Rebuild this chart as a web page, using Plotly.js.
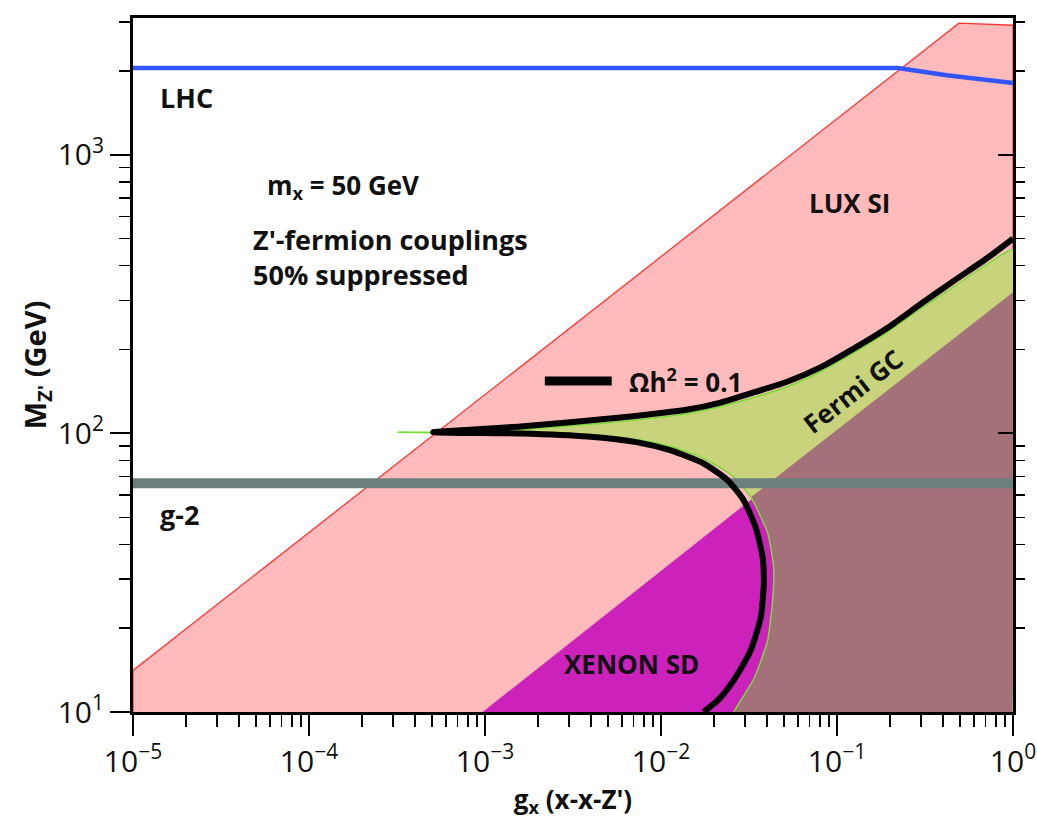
<!DOCTYPE html>
<html>
<head>
<meta charset="utf-8">
<script src="https://cdn.plot.ly/plotly-3.0.1.min.js"></script>
<style>
  html, body { margin: 0; padding: 0; background: #ffffff; }
  #chart { width: 1037px; height: 826px; }
</style>
</head>
<body>
<div id="chart"></div>
<script>
// Z' portal parameter space: coupling g_x vs. mediator mass M_Z'

// LUX SI excluded region (boundary polygon)
const luxG = [1e-5, 1e-5, 0.493, 1.0, 1.0];
const luxM = [10, 14.1, 2970, 2920, 10];

// XENON SD excluded region
const xenonG = [9.7e-4, 1.0, 1.0];
const xenonM = [10, 321, 10];

// Fermi GC preferred region: upper edge (tip -> right) and lower edge (tip -> bottom)
const fermiUpG = [3.21e-4, 5.08e-4, 0.00159, 0.00589, 0.0142, 0.0218, 0.0336, 0.0525, 0.081, 0.125, 0.195, 0.300, 0.461, 0.721, 1.0];
const fermiUpM = [101, 101, 103.3, 110.4, 118.0, 125.0, 134.6, 147.4, 166.9, 195.1, 232.1, 280.5, 336.4, 406.8, 456];
const fermiLoG = [5.08e-4, 0.00159, 0.00382, 0.00736, 0.01135, 0.01746, 0.0249, 0.0324, 0.0404, 0.0437, 0.0431, 0.0404, 0.0340, 0.0284, 0.0259];
const fermiLoM = [100.6, 101.6, 99.0, 95.1, 89.8, 81.3, 71.3, 59.0, 43.9, 33.1, 25.2, 18.1, 13.3, 11.0, 10];

// Relic density contour Omega h^2 = 0.1 (upper branch right -> tip, then lower branch)
const relicG = [1.0, 0.721, 0.461, 0.300, 0.195, 0.125, 0.081, 0.0525, 0.0336, 0.0218, 0.0142, 0.00589, 0.00159, 5.08e-4,
                0.00159, 0.00382, 0.00736, 0.01135, 0.01746, 0.0239, 0.0295, 0.0345, 0.0378, 0.0384, 0.0369, 0.0324, 0.0259, 0.0210, 0.01746];
const relicM = [500, 428, 353, 292, 240, 202, 173, 153.6, 140.3, 129.1, 121.9, 114.1, 105.9, 101,
                100, 97.5, 92.9, 86.9, 78.0, 67.9, 57.5, 46.0, 35.9, 29.0, 21.9, 16.7, 13.0, 11.0, 10];

// LHC dijet bound
const lhcG = [1e-5, 0.222, 0.42, 1.0];
const lhcM = [2050, 2050, 1930, 1810];

// muon g-2 bound
const g2G = [1e-5, 1.0];
const g2M = [66.2, 66.2];

// Axis ticks
const xTickVals = [1e-5, 1e-4, 1e-3, 1e-2, 1e-1, 1];
const xTickText = ['10<sup>\u22125</sup>', '10<sup>\u22124</sup>', '10<sup>\u22123</sup>', '10<sup>\u22122</sup>', '10<sup>\u22121</sup>', '10<sup>0</sup>'];
const yTickVals = [10, 100, 1000];
const yTickText = ['10<sup>1</sup>', '10<sup>2</sup>', '10<sup>3</sup>'];

function minorTicks(lo, hi) {
  const out = [];
  for (let d = lo; d < hi; d++) {
    for (let k = 2; k <= 9; k++) out.push(k * Math.pow(10, d));
  }
  return out;
}
const xMinor = minorTicks(-5, 0);
const yMinor = minorTicks(1, 4);

// Region where the Fermi GC band overlaps XENON SD exclusion
const overlapStart = fermiLoG.indexOf(0.0324);
const overlapG = fermiLoG.slice(overlapStart).concat([1.0, 1.0]);
const overlapM = fermiLoM.slice(overlapStart).concat([10, xenonM[1]]);

// Closed Fermi GC polygon
const fermiG = [1.0].concat(fermiUpG.slice().reverse(), fermiLoG);
const fermiM = [10].concat(fermiUpM.slice().reverse(), fermiLoM);

const FONT = 'Open Sans, Liberation Sans, sans-serif';

const traces = [
  { x: luxG, y: luxM, type: 'scatter', mode: 'lines', fill: 'toself',
    fillcolor: '#FFBBBB', line: { color: '#FF3535', width: 1.3 }, hoverinfo: 'skip' },
  { x: xenonG, y: xenonM, type: 'scatter', mode: 'lines', fill: 'toself',
    fillcolor: '#CC22BB', line: { width: 0 }, hoverinfo: 'skip' },
  { x: fermiG, y: fermiM, type: 'scatter', mode: 'lines', fill: 'toself',
    fillcolor: '#C8D37C', line: { width: 0, shape: 'spline', smoothing: 0.5 }, hoverinfo: 'skip' },
  { x: overlapG, y: overlapM, type: 'scatter', mode: 'lines', fill: 'toself',
    fillcolor: '#A4707A', line: { width: 0, shape: 'spline', smoothing: 0.5 }, hoverinfo: 'skip' },
  { x: fermiG, y: fermiM, type: 'scatter', mode: 'lines',
    line: { color: '#77DD33', width: 1.5, shape: 'spline', smoothing: 0.5 }, hoverinfo: 'skip' },
  { x: g2G, y: g2M, type: 'scatter', mode: 'lines',
    line: { color: '#6B807D', width: 10 }, hoverinfo: 'skip' },
  { x: lhcG, y: lhcM, type: 'scatter', mode: 'lines',
    line: { color: '#3355FF', width: 4.5 }, hoverinfo: 'skip' },
  { x: relicG, y: relicM, type: 'scatter', mode: 'lines', yaxis: 'y2',
    line: { color: '#000000', width: 6, shape: 'spline', smoothing: 0.6 }, hoverinfo: 'skip' }
];

const yRange = [1, Math.log10(3100)];

function label(text, x, y, size, extra) {
  return Object.assign({ text: text, xref: 'paper', yref: 'paper', x: x, y: y,
    xanchor: 'left', yanchor: 'middle', align: 'left', showarrow: false,
    font: { family: FONT, size: size, color: '#111111', weight: 'bold' } }, extra || {});
}

const layout = {
  width: 1037, height: 826,
  margin: { l: 133, r: 24, t: 18, b: 114 },
  paper_bgcolor: '#ffffff', plot_bgcolor: '#ffffff',
  showlegend: false,
  xaxis: {
    type: 'log', range: [-5, 0],
    tickmode: 'array', tickvals: xTickVals, ticktext: xTickText,
    ticks: 'outside', ticklen: 21, tickwidth: 2, tickcolor: '#000',
    minor: { ticks: 'outside', ticklen: 12, tickwidth: 1.5, tickcolor: '#000', tickmode: 'array', tickvals: xMinor, showgrid: false },
    showline: true, linewidth: 3, linecolor: '#000', mirror: true,
    showgrid: false, zeroline: false,
    tickfont: { family: FONT, size: 30, color: '#111' },
    title: { text: 'g<sub>x</sub> (x-x-Z\')', font: { family: FONT, size: 26, color: '#111', weight: 'bold' }, standoff: 6 }
  },
  yaxis: {
    type: 'log', range: yRange,
    tickmode: 'array', tickvals: yTickVals, ticktext: yTickText,
    ticks: 'outside', ticklen: 20, tickwidth: 2, tickcolor: '#000',
    minor: { ticks: 'outside', ticklen: 11, tickwidth: 1.5, tickcolor: '#000', tickmode: 'array', tickvals: yMinor, showgrid: false },
    showline: true, linewidth: 3, linecolor: '#000', mirror: true,
    showgrid: false, zeroline: false,
    tickfont: { family: FONT, size: 30, color: '#111' },
    title: { text: 'M<sub>Z\'</sub> (GeV)', font: { family: FONT, size: 29, color: '#111', weight: 'bold' }, standoff: 2 }
  },
  yaxis2: {
    type: 'log', range: yRange, overlaying: 'y', side: 'right', anchor: 'x',
    tickmode: 'array', tickvals: yTickVals, showticklabels: false,
    ticks: 'inside', ticklen: 15, tickwidth: 2, tickcolor: '#000',
    minor: { ticks: 'outside', ticklen: 11, tickwidth: 1.5, tickcolor: '#000', tickmode: 'array', tickvals: yMinor, showgrid: false },
    showline: false, showgrid: false, zeroline: false
  },
  shapes: [
    { type: 'line', xref: 'paper', yref: 'paper', x0: 0.468, x1: 0.544, y0: 0.477, y1: 0.477,
      line: { color: '#000', width: 9 } }
  ],
  annotations: [
    label('LHC', 0.028, 0.886, 27),
    label('m<sub>x</sub> = 50 GeV', 0.150, 0.758, 26),
    label('Z\'-fermion couplings<br>50% suppressed', 0.134, 0.6556, 27),
    label('LUX SI', 0.766, 0.733, 26),
    label('g-2', 0.028, 0.284, 27),
    label('XENON SD', 0.487, 0.069, 26),
    label('Ωh<sup>2</sup> = 0.1', 0.561, 0.477, 26),
    label('Fermi GC', 0.818, 0.463, 26, { xanchor: 'center', textangle: -38 })
  ]
};

Plotly.newPlot('chart', traces, layout, { staticPlot: true, displayModeBar: false });
</script>
</body>
</html>
